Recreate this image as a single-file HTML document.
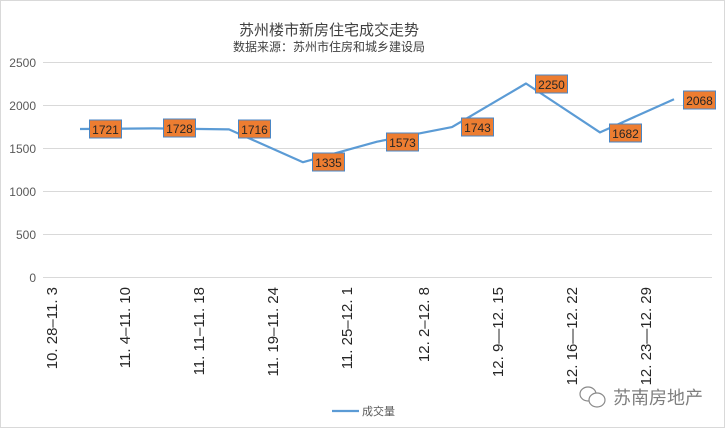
<!DOCTYPE html>
<html><head><meta charset="utf-8"><style>
body{margin:0;background:#fff;}
svg text{font-family:"Liberation Sans","Noto Sans CJK SC",sans-serif;}
</style></head><body>
<svg width="726" height="429" viewBox="0 0 726 429" xmlns="http://www.w3.org/2000/svg">
<rect x="0.5" y="0.5" width="724" height="427" fill="#fff" stroke="#d9d9d9"/>
<text x="329" y="35" font-size="15" fill="#404040" text-anchor="middle">苏州楼市新房住宅成交走势</text>
<text x="329" y="51" font-size="12" fill="#404040" text-anchor="middle">数据来源：苏州市住房和城乡建设局</text>
<g stroke="#d9d9d9" stroke-width="1">
<line x1="43" x2="712" y1="62.5" y2="62.5"/><line x1="43" x2="712" y1="105.5" y2="105.5"/>
<line x1="43" x2="712" y1="148.5" y2="148.5"/><line x1="43" x2="712" y1="191.5" y2="191.5"/>
<line x1="43" x2="712" y1="234.5" y2="234.5"/><line x1="43" x2="712" y1="277.5" y2="277.5"/>
</g>
<g font-size="12" fill="#595959" text-anchor="end">
<text x="36" y="67">2500</text><text x="36" y="110">2000</text><text x="36" y="153">1500</text>
<text x="36" y="196">1000</text><text x="36" y="239">500</text><text x="36" y="282">0</text>
</g>
<polyline fill="none" stroke="#5b9bd5" stroke-width="2.2" stroke-linejoin="round" points="80,129 154,128.4 229,129.4 303,162.2 377,141.7 452,127.1 526,83.5 600,132.4 674,99.2"/>
<g fill="#ed7d31" stroke="#4a86c5" stroke-width="1">
<rect x="89.5" y="120" width="32" height="18"/><rect x="163.5" y="119" width="32" height="18"/>
<rect x="238.5" y="120" width="32" height="18"/><rect x="312.5" y="153" width="32" height="18"/>
<rect x="386.5" y="133" width="32" height="18"/><rect x="461.5" y="118" width="32" height="18"/>
<rect x="535.5" y="75" width="32" height="18"/><rect x="609.5" y="124" width="32" height="18"/>
<rect x="683.5" y="91" width="32" height="18"/>
</g>
<g font-size="12" fill="#262626" text-anchor="middle">
<text x="105.5" y="134">1721</text><text x="179.5" y="133">1728</text><text x="254.5" y="134">1716</text>
<text x="328.5" y="167">1335</text><text x="402.5" y="147">1573</text><text x="477.5" y="132">1743</text>
<text x="551.5" y="89">2250</text><text x="625.5" y="138">1682</text><text x="699.5" y="105">2068</text>
</g>
<g font-size="15" fill="#262626" text-anchor="end">
<text transform="translate(57,287) rotate(-90)">10. 28–11. 3</text>
<text transform="translate(130,287) rotate(-90)">11. 4–11. 10</text>
<text transform="translate(204,287) rotate(-90)">11. 11–11. 18</text>
<text transform="translate(278,287) rotate(-90)">11. 19–11. 24</text>
<text transform="translate(352,287) rotate(-90)">11. 25–12. 1</text>
<text transform="translate(429,287) rotate(-90)">12. 2–12. 8</text>
<text transform="translate(503,287) rotate(-90)">12. 9—12. 15</text>
<text transform="translate(577,287) rotate(-90)">12. 16—12. 22</text>
<text transform="translate(651,287) rotate(-90)">12. 23—12. 29</text>
</g>
<line x1="332" x2="359" y1="411" y2="411" stroke="#5b9bd5" stroke-width="2.2"/>
<text x="362" y="415" font-size="11" fill="#595959">成交量</text>
<g fill="none" stroke="#8a8a8a" stroke-width="1.2">
<ellipse cx="588" cy="394" rx="8" ry="7"/><ellipse cx="597" cy="400" rx="8" ry="7" fill="#fff"/>
</g>
<text x="613" y="404" font-size="18" fill="#7f7f7f">苏南房地产</text>
</svg>
</body></html>
